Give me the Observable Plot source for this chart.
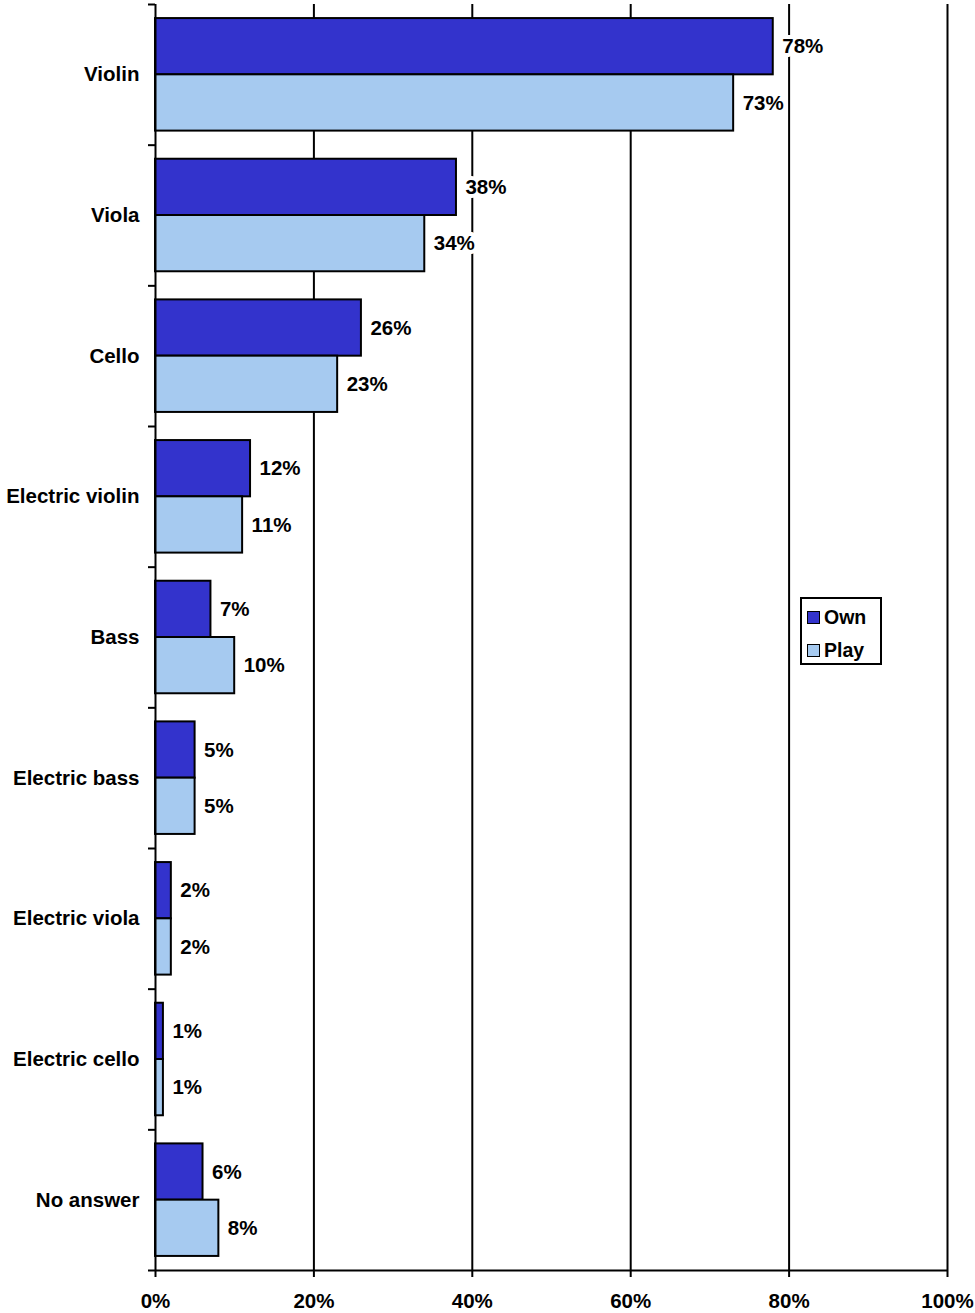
<!DOCTYPE html>
<html><head><meta charset="utf-8">
<script src="https://cdn.jsdelivr.net/npm/d3@7"></script>
<script src="https://cdn.jsdelivr.net/npm/@observablehq/plot@0.6"></script>
<style>
body{margin:0;background:#fff;font-family:"Liberation Sans",Arial,sans-serif;}
#wrap{position:relative;width:975px;height:1313px;}
#legend{position:absolute;left:800px;top:597px;width:82px;height:68px;box-sizing:border-box;border:2px solid #000;background:#fff;font-weight:bold;font-size:19.5px;}
#legend .item{position:absolute;left:5px;display:flex;align-items:center;height:22px;}
#legend .sw{width:11px;height:11px;border:1.5px solid #000;margin-right:4px;}
</style>
</head><body>
<div id="wrap"></div>
<script>
const categories = ["Violin","Viola","Cello","Electric violin","Bass","Electric bass","Electric viola","Electric cello","No answer"];
const own  = [78,38,26,12,7,5,2,1,6];
const play = [73,34,23,11,10,5,2,1,8];
const series = ["Own","Play"];
const colors = ["#3333CC","#A6CAF0"];
const xTicks = [0,20,40,60,80,100];

const rows = [];
categories.forEach((c,i)=>{
  rows.push({cat:c, series:"Own",  value:own[i],  y1:i+0.1, y2:i+0.5});
  rows.push({cat:c, series:"Play", value:play[i], y1:i+0.5, y2:i+0.9});
});

const font = '"Liberation Sans", Arial, sans-serif';
const chart = Plot.plot({
  width:975, height:1313,
  marginTop:4, marginBottom:43, marginLeft:155, marginRight:28,
  style:{fontFamily:font, fontSize:"20.5px", fontWeight:"bold", color:"#000", background:"#fff", overflow:"visible"},
  x:{domain:[0,100]},
  y:{domain:[0,9], reverse:true},
  color:{domain:series, range:colors},
  marks:[
    Plot.ruleX(xTicks.slice(1), {stroke:"#000", strokeWidth:2}),
    Plot.rectX(rows, {x1:0, x2:"value", y1:"y1", y2:"y2", fill:"series", stroke:"#000", strokeWidth:2}),
    Plot.text(rows, {x:"value", y:d=>(d.y1+d.y2)/2, text:d=>d.value+"%", textAnchor:"start", dx:9,
      fill:"#000", stroke:"#fff", strokeWidth:8, fontSize:20.5, fontWeight:"bold"}),
    Plot.ruleX([0], {stroke:"#000", strokeWidth:2}),
    Plot.ruleY([9], {stroke:"#000", strokeWidth:2}),
    Plot.axisX({ticks:xTicks, tickFormat:d=>d+"%", tickSize:7, tickPadding:16, label:null, stroke:"#000", strokeWidth:2, fontSize:20.5, fontWeight:"bold"}),
    Plot.axisY({ticks:categories.map((c,i)=>i+0.5), tickFormat:d=>categories[Math.floor(d)], tickSize:0, tickPadding:16, label:null, fontSize:20.5, fontWeight:"bold"}),
    Plot.axisY({ticks:d3.range(0,10), tickFormat:()=>"", tickSize:7, label:null, stroke:"#000", strokeWidth:2})
  ]
});
const wrap = document.getElementById("wrap");
wrap.appendChild(chart);

const legend = document.createElement("div");
legend.id = "legend";
series.forEach((s,k)=>{
  const it = document.createElement("div");
  it.className = "item";
  it.style.top = (k===0 ? 7 : 40) + "px";
  const sw = document.createElement("div");
  sw.className = "sw";
  sw.style.background = colors[k];
  const t = document.createElement("span");
  t.textContent = s;
  it.appendChild(sw); it.appendChild(t);
  legend.appendChild(it);
});
wrap.appendChild(legend);
</script>
</body></html>
